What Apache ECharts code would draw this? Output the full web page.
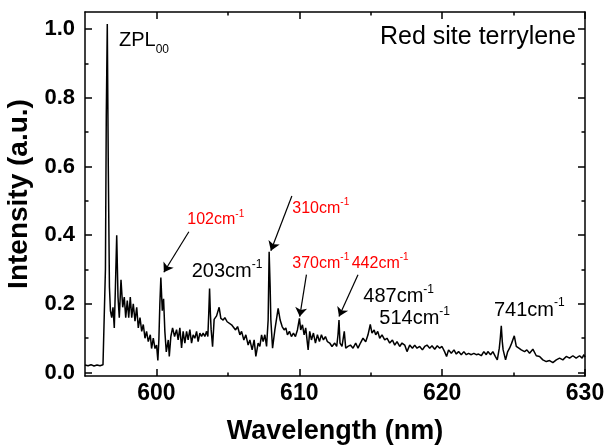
<!DOCTYPE html>
<html><head><meta charset="utf-8">
<script src="https://cdn.jsdelivr.net/npm/echarts@6/dist/echarts.min.js"></script>
<style>html,body{margin:0;padding:0;background:#fff}#c{width:607px;height:447px}</style>
</head><body><div id="c"></div>
<script>
// ---------- DATA ----------
// [wavelength (nm), intensity (a.u.)]
const spectrum = [
[595.00,0.022],[595.21,0.020],[595.42,0.023],[595.63,0.019],[595.84,0.022],[596.05,0.020],[596.26,0.023],[596.36,0.025],
[596.43,0.30],[596.49,0.75],[596.56,1.015],[596.63,0.60],[596.71,0.25],[596.78,0.18],[596.87,0.16],[596.96,0.19],
[597.05,0.13],[597.13,0.25],[597.22,0.40],[597.31,0.22],[597.40,0.16],[597.52,0.27],[597.64,0.19],[597.75,0.22],
[597.85,0.16],[597.96,0.21],[598.06,0.16],[598.17,0.22],[598.27,0.16],[598.38,0.20],[598.50,0.15],[598.62,0.19],
[598.73,0.13],[598.85,0.16],[598.97,0.12],[599.08,0.14],[599.20,0.10],[599.31,0.12],[599.43,0.09],[599.57,0.11],
[599.66,0.07],[599.78,0.10],[599.90,0.07],[600.01,0.08],[600.10,0.035],[600.17,0.095],[600.24,0.20],[600.31,0.277],
[600.41,0.18],[600.50,0.215],[600.59,0.12],[600.69,0.06],[600.83,0.095],[600.90,0.047],[601.01,0.105],[601.13,0.13],
[601.27,0.105],[601.41,0.125],[601.52,0.095],[601.64,0.13],[601.76,0.072],[601.87,0.12],[601.99,0.086],[602.11,0.12],
[602.22,0.095],[602.34,0.125],[602.46,0.086],[602.57,0.11],[602.69,0.10],[602.81,0.12],[602.92,0.09],[603.04,0.115],
[603.16,0.105],[603.27,0.115],[603.39,0.105],[603.51,0.12],[603.60,0.105],[603.66,0.17],[603.72,0.245],[603.78,0.17],
[603.83,0.125],[603.93,0.075],[604.04,0.155],[604.21,0.165],[604.39,0.19],[604.51,0.158],[604.67,0.153],[604.79,0.16],
[604.95,0.148],[605.09,0.153],[605.26,0.139],[605.37,0.144],[605.54,0.124],[605.68,0.134],[605.84,0.11],[605.96,0.12],
[606.12,0.095],[606.26,0.11],[606.42,0.08],[606.54,0.095],[606.70,0.066],[606.84,0.095],[606.96,0.047],[607.12,0.086],
[607.24,0.076],[607.36,0.11],[607.47,0.09],[607.59,0.11],[607.71,0.076],[607.82,0.153],[607.89,0.352],[607.96,0.25],
[608.01,0.153],[608.13,0.071],[608.29,0.124],[608.52,0.187],[608.66,0.153],[608.80,0.134],[608.94,0.124],[609.06,0.13],
[609.17,0.11],[609.31,0.12],[609.45,0.105],[609.59,0.115],[609.73,0.105],[609.87,0.124],[610.01,0.158],[610.10,0.124],
[610.22,0.139],[610.34,0.11],[610.45,0.13],[610.62,0.066],[610.73,0.12],[610.85,0.095],[610.99,0.115],[611.13,0.086],
[611.27,0.11],[611.41,0.09],[611.55,0.11],[611.69,0.095],[611.83,0.105],[611.97,0.09],[612.13,0.086],[612.29,0.076],
[612.48,0.086],[612.62,0.076],[612.71,0.11],[612.78,0.153],[612.85,0.086],[612.99,0.076],[613.15,0.12],[613.25,0.071],
[613.41,0.076],[613.58,0.08],[613.76,0.071],[613.95,0.086],[614.11,0.071],[614.28,0.086],[614.46,0.10],[614.65,0.09],
[614.81,0.11],[614.97,0.14],[615.09,0.115],[615.24,0.124],[615.35,0.11],[615.49,0.12],[615.63,0.10],[615.79,0.11],
[615.98,0.095],[616.14,0.10],[616.33,0.086],[616.52,0.095],[616.68,0.08],[616.84,0.09],[617.03,0.076],[617.19,0.086],
[617.38,0.08],[617.54,0.061],[617.73,0.08],[617.92,0.071],[618.08,0.08],[618.24,0.071],[618.43,0.076],[618.62,0.066],
[618.78,0.076],[618.94,0.08],[619.13,0.071],[619.29,0.078],[619.48,0.068],[619.66,0.078],[619.83,0.071],[619.99,0.076],
[620.17,0.061],[620.31,0.047],[620.45,0.066],[620.64,0.056],[620.83,0.066],[620.99,0.054],[621.15,0.061],[621.34,0.052],
[621.52,0.061],[621.69,0.052],[621.85,0.056],[622.04,0.052],[622.22,0.056],[622.39,0.052],[622.55,0.054],[622.74,0.049],
[622.92,0.061],[623.09,0.052],[623.20,0.061],[623.39,0.052],[623.55,0.061],[623.72,0.047],[623.86,0.037],[624.00,0.071],
[624.07,0.10],[624.14,0.136],[624.21,0.09],[624.27,0.066],[624.44,0.037],[624.58,0.060],[624.72,0.071],[624.86,0.085],
[625.05,0.107],[625.19,0.076],[625.37,0.071],[625.54,0.066],[625.77,0.061],[625.93,0.066],[626.12,0.056],[626.35,0.068],
[626.59,0.049],[626.82,0.047],[627.05,0.037],[627.29,0.032],[627.52,0.035],[627.75,0.029],[627.99,0.037],[628.22,0.042],
[628.45,0.037],[628.69,0.047],[628.92,0.042],[629.15,0.049],[629.38,0.042],[629.62,0.049],[629.80,0.042],[629.92,0.052],
[630.00,0.045]
];
const xMajorTicks = [600, 610, 620, 630];
const xMinorTicks = [605, 615, 625];
const yMajorTicks = [0, 0.2, 0.4, 0.6, 0.8, 1.0];
const yMinorTicks = [0.1, 0.3, 0.5, 0.7, 0.9];
const xTitle = 'Wavelength (nm)';
const yTitle = 'Intensity (a.u.)';
const sampleTitle = 'Red site terrylene';
const blackPeakLabels = ['203cm', '487cm', '514cm', '741cm'];
const redPeakLabels = ['102cm', '310cm', '370cm', '442cm'];
// arrows in data coordinates: [from, to]
const arrowsData = [
  [[602.27, 0.41], [600.52, 0.292]],
  [[609.48, 0.514], [608.01, 0.355]],
  [[610.50, 0.285], [610.03, 0.163]],
  [[614.11, 0.285], [612.78, 0.163]]
];

// ---------- LAYOUT / STYLE ----------
const FF = '"Liberation Sans", Arial, sans-serif';
const black = '#000';
const red = '#ff0000';
const ctx = document.createElement('canvas').getContext('2d');
function tw(t, size, weight) { ctx.font = (weight || 'normal') + ' ' + size + 'px "Liberation Sans"'; return ctx.measureText(t).width; }

const graphics = [];
function addText(t, x, y, size, color, weight) {
  graphics.push({ type: 'text', x: x, y: y, silent: true,
    style: { text: t, fill: color, fontSize: size, fontFamily: FF, fontWeight: weight || 'normal', textAlign: 'left', textVerticalAlign: 'middle' } });
}
function addSup(main, x, y, size, supSize, dy, color) {
  addText(main, x, y, size, color);
  addText('-1', x + tw(main, size), y + dy, supSize, color);
}
// ZPL00
addText('ZPL', 119, 40, 20, black);
addText('00', 119 + tw('ZPL', 20), 50, 12, black);
addText(sampleTitle, 380, 37, 25, black);
const blackPos = [[191.7, 271.7], [363.3, 296.7], [379.3, 318.3], [494, 310]];
blackPeakLabels.forEach((t, i) => addSup(t, blackPos[i][0], blackPos[i][1], 20, 12, -7, black));
const redPos = [[187.3, 220], [292.3, 208.3], [292.3, 263.3], [351.7, 263.3]];
redPeakLabels.forEach((t, i) => addSup(t, redPos[i][0], redPos[i][1], 16, 10, -6, red));

const axisLine = { show: true, onZero: false, lineStyle: { color: black, width: 1.5 } };
const tickStyle = { color: black, width: 1.5 };
function xAx(pos, ticks, len, main) {
  return {
    type: 'value', position: pos, min: 595, max: 630,
    axisLine: main ? axisLine : { show: false, onZero: false },
    axisTick: { show: true, inside: true, length: len, lineStyle: tickStyle, customValues: ticks },
    axisLabel: (pos === 'bottom' && main) ? { show: true, customValues: ticks, fontSize: 23, fontWeight: 'bold', color: black, fontFamily: FF, margin: 6, formatter: v => String(Math.round(v)) } : { show: false },
    splitLine: { show: false },
    name: (pos === 'bottom' && main) ? xTitle : '',
    nameLocation: 'middle', nameGap: 42,
    nameTextStyle: { fontSize: 27, fontWeight: 'bold', color: black, fontFamily: FF }
  };
}
function yAx(pos, ticks, len, main) {
  return {
    type: 'value', position: pos, min: -0.01, max: 1.05,
    axisLine: main ? axisLine : { show: false, onZero: false },
    axisTick: { show: true, inside: true, length: len, lineStyle: tickStyle, customValues: ticks },
    axisLabel: (pos === 'left' && main) ? { show: true, customValues: ticks, fontSize: 22, fontWeight: 'bold', color: black, fontFamily: FF, margin: 10, formatter: v => v.toFixed(1) } : { show: false },
    splitLine: { show: false },
    name: (pos === 'left' && main) ? yTitle : '',
    nameLocation: 'middle', nameGap: 42,
    nameTextStyle: { fontSize: 28, fontWeight: 'bold', color: black, fontFamily: FF }
  };
}

const chart = echarts.init(document.getElementById('c'), null, { renderer: 'canvas' });
chart.setOption({
  animation: false,
  backgroundColor: '#fff',
  grid: { left: 85, right: 22, top: 12, bottom: 71, containLabel: false, outerBoundsMode: 'none' },
  xAxis: [xAx('bottom', xMajorTicks, 7, true), xAx('bottom', xMinorTicks, 3.5, false), xAx('top', xMajorTicks, 7, true), xAx('top', xMinorTicks, 3.5, false)],
  yAxis: [yAx('left', yMajorTicks, 7, true), yAx('left', yMinorTicks, 3.5, false), yAx('right', yMajorTicks, 7, true), yAx('right', yMinorTicks, 3.5, false)],
  series: [{
    type: 'line', xAxisIndex: 0, yAxisIndex: 0,
    data: spectrum, symbol: 'none', showSymbol: false,
    lineStyle: { color: black, width: 1.5 },
    markLine: {
      silent: true, symbol: ['none', 'arrow'], symbolSize: 9,
      label: { show: false },
      lineStyle: { color: black, width: 1.2, type: 'solid' },
      emphasis: { disabled: true },
      data: arrowsData.map(a => [{ coord: a[0] }, { coord: a[1] }])
    }
  }],
  graphic: graphics
});
</script></body></html>
